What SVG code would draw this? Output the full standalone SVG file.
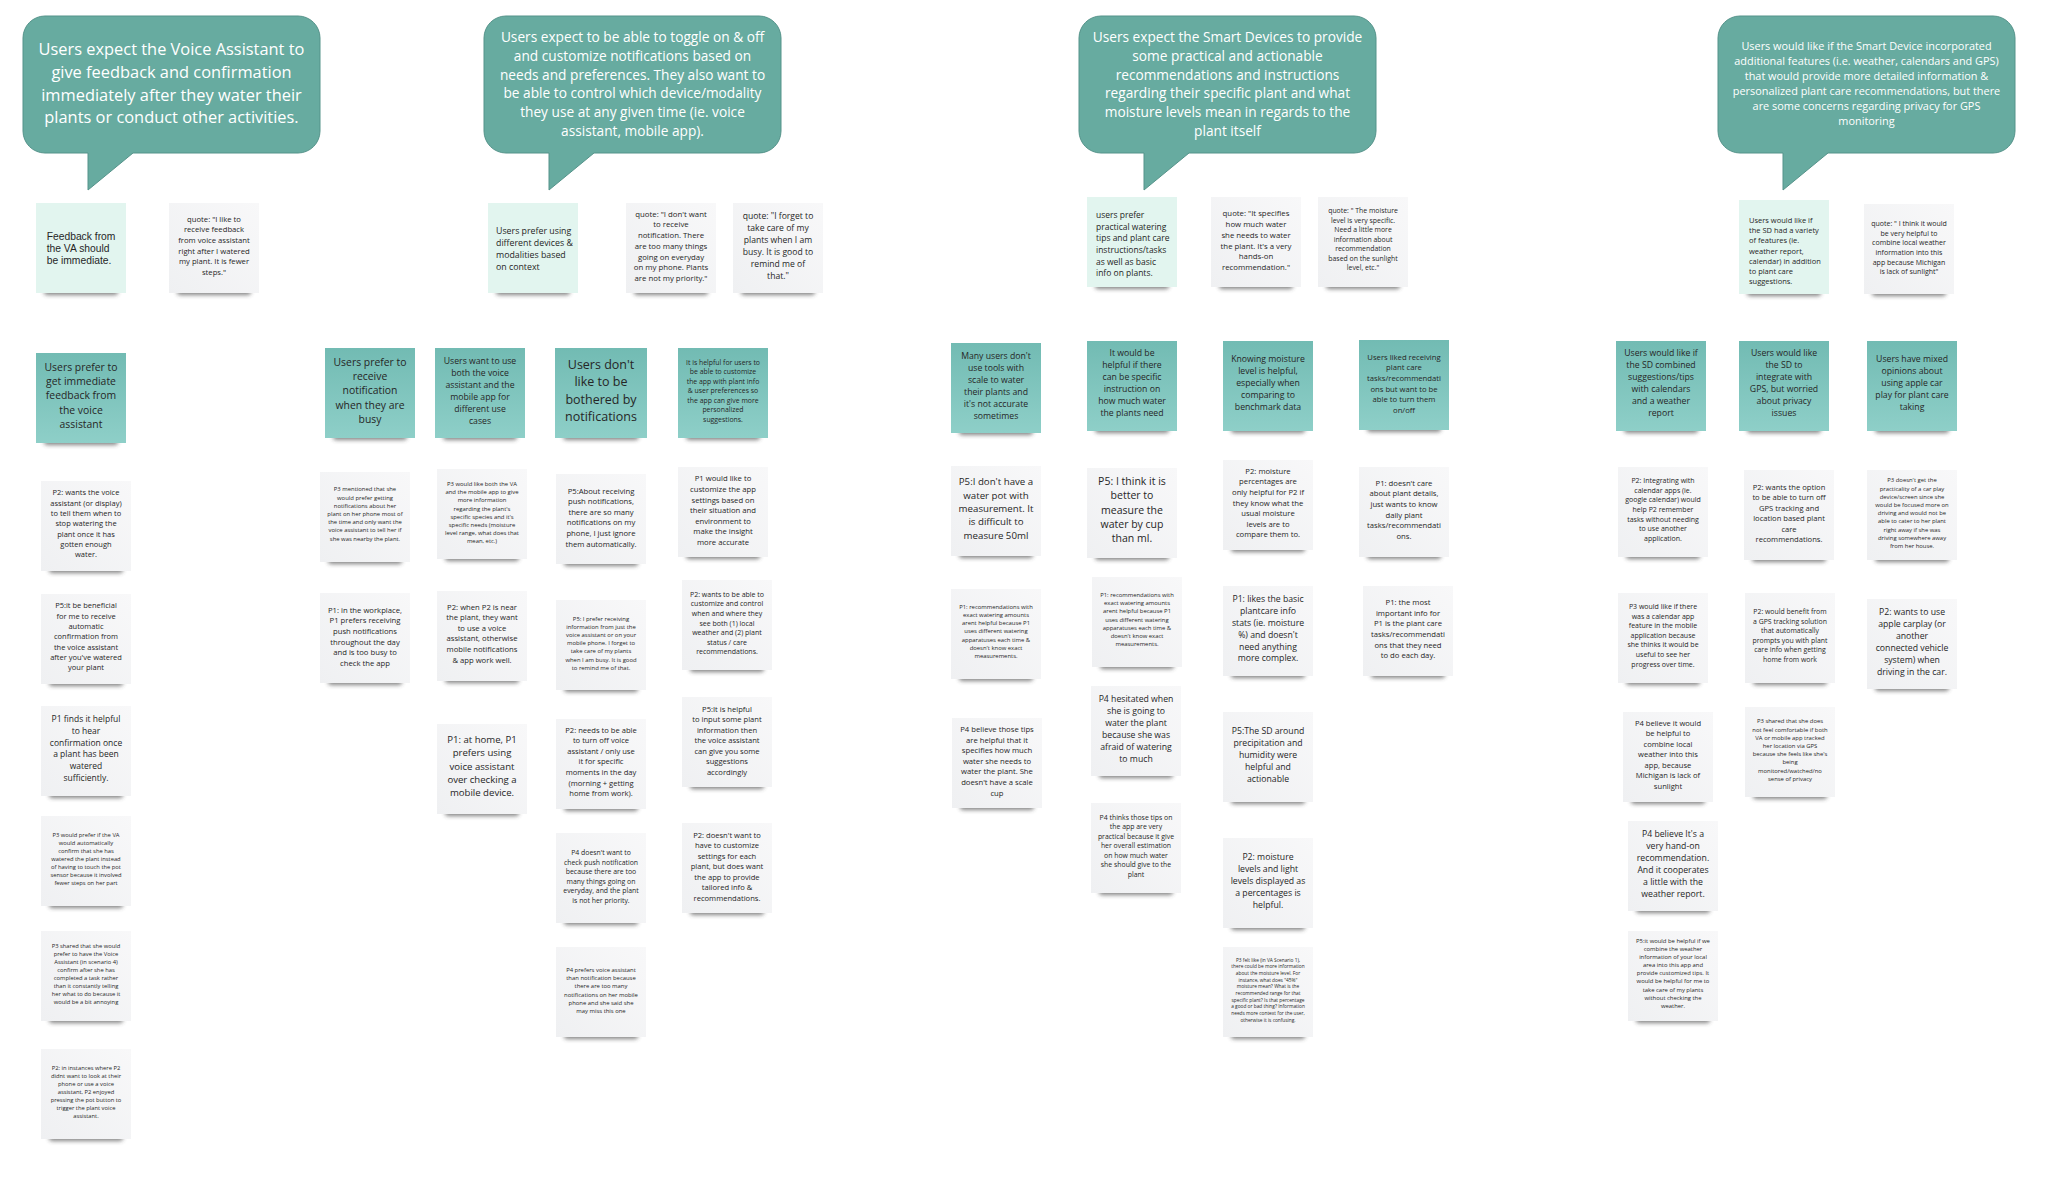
<svg xmlns="http://www.w3.org/2000/svg" xmlns:xlink="http://www.w3.org/1999/xlink" width="2052" height="1180" viewBox="0 0 2052 1180">
<style>
.bub{fill:#67aba0;stroke:#55938a;stroke-width:1}
.bt{font-family:"Open Sans","Noto Sans",sans-serif;fill:#ffffff;text-anchor:middle}
.nt{font-family:"Open Sans","Noto Sans",sans-serif;fill:#262626;text-anchor:middle}
.lt{font-family:"Open Sans","Noto Sans",sans-serif;fill:#262626;text-anchor:start}
.g{fill:url(#gG)}
.h{fill:url(#gH)}
.l{fill:#e2f5ef}
</style>
<defs>
<linearGradient id="gH" x1="0" y1="0" x2="0" y2="1"><stop offset="0" stop-color="#72bbb3"/><stop offset="1" stop-color="#8ecfc8"/></linearGradient>
<linearGradient id="gG" x1="0" y1="1" x2="1" y2="0"><stop offset="0" stop-color="#eff0f2"/><stop offset="1" stop-color="#f8f8f9"/></linearGradient>
<filter id="bl" x="-20%" y="-300%" width="140%" height="700%"><feGaussianBlur stdDeviation="2"/></filter>
<g id="sh"><rect x="8" y="85" width="74" height="7" rx="3.5" fill="#333" opacity="0.6" filter="url(#bl)"/></g>
<path id="bub" d="M22,0 H275 A22,22 0 0 1 297,22 V115 A22,22 0 0 1 275,137 H110 L65,174 V137 H22 A22,22 0 0 1 0,115 V22 A22,22 0 0 1 22,0 Z"/>
</defs>
<rect width="2052" height="1180" fill="#ffffff"/>
<g id="connectors"></g>

<!-- Column 1 -->
<g id="c1-bubble" transform="translate(23,16)"><use href="#bub" class="bub"/>
<text class="bt" style="font-size:16.4px" y="39.2"><tspan x="148.5">Users expect the Voice Assistant to</tspan><tspan x="148.5" dy="22.7">give feedback and confirmation</tspan><tspan x="148.5" dy="22.7">immediately after they water their</tspan><tspan x="148.5" dy="22.7">plants or conduct other activities.</tspan></text></g>
<g id="c1-n1" transform="translate(36,203)"><use href="#sh"/><rect class="l" width="90" height="90"/>
<text style="font-family:'Liberation Sans',Arial,sans-serif;font-size:10.3px;fill:#262626" y="37"><tspan x="10.7">Feedback from</tspan><tspan x="10.7" dy="12">the VA should</tspan><tspan x="10.7" dy="12">be immediate.</tspan></text></g>
<g id="c1-n2" transform="translate(169,203)"><use href="#sh"/><rect class="g" width="90" height="90"/>
<text class="nt" style="font-size:7.7px" y="18.8"><tspan x="45">quote: "I like to</tspan><tspan x="45" dy="10.6">receive feedback</tspan><tspan x="45" dy="10.6">from voice assistant</tspan><tspan x="45" dy="10.6">right after I watered</tspan><tspan x="45" dy="10.6">my plant. It is fewer</tspan><tspan x="45" dy="10.6">steps."</tspan></text></g>
<g id="c1-n3" transform="translate(36,353)"><use href="#sh"/><rect class="h" width="90" height="90"/>
<text class="nt" style="font-size:10.4px" y="17.6"><tspan x="45">Users prefer to</tspan><tspan x="45" dy="14.3">get immediate</tspan><tspan x="45" dy="14.3">feedback from</tspan><tspan x="45" dy="14.3">the voice</tspan><tspan x="45" dy="14.3">assistant</tspan></text></g>
<g id="c1-n4" transform="translate(41,481)"><use href="#sh"/><rect class="g" width="90" height="90"/>
<text class="nt" style="font-size:7.5px" y="14.3"><tspan x="45">P2: wants the voice</tspan><tspan x="45" dy="10.3">assistant (or display)</tspan><tspan x="45" dy="10.3">to tell them when to</tspan><tspan x="45" dy="10.3">stop watering the</tspan><tspan x="45" dy="10.3">plant once it has</tspan><tspan x="45" dy="10.3">gotten enough</tspan><tspan x="45" dy="10.3">water.</tspan></text></g>
<g id="c1-n5" transform="translate(41,594)"><use href="#sh"/><rect class="g" width="90" height="90"/>
<text class="nt" style="font-size:7.5px" y="14.3"><tspan x="45">P5:it be beneficial</tspan><tspan x="45" dy="10.3">for me to receive</tspan><tspan x="45" dy="10.3">automatic</tspan><tspan x="45" dy="10.3">confirmation from</tspan><tspan x="45" dy="10.3">the voice assistant</tspan><tspan x="45" dy="10.3">after you've watered</tspan><tspan x="45" dy="10.3">your plant</tspan></text></g>
<g id="c1-n6" transform="translate(41,706)"><use href="#sh"/><rect class="g" width="90" height="90"/>
<text class="nt" style="font-size:8.5px" y="16.3"><tspan x="45">P1 finds it helpful</tspan><tspan x="45" dy="11.7">to hear</tspan><tspan x="45" dy="11.7">confirmation once</tspan><tspan x="45" dy="11.7">a plant has been</tspan><tspan x="45" dy="11.7">watered</tspan><tspan x="45" dy="11.7">sufficiently.</tspan></text></g>
<g id="c1-n7" transform="translate(41,816)"><use href="#sh"/><rect class="g" width="90" height="90"/>
<text class="nt" style="font-size:5.8px" y="20.6"><tspan x="45">P3 would prefer if the VA</tspan><tspan x="45" dy="8">would automatically</tspan><tspan x="45" dy="8">confirm that she has</tspan><tspan x="45" dy="8">watered the plant instead</tspan><tspan x="45" dy="8">of having to touch the pot</tspan><tspan x="45" dy="8">sensor because it involved</tspan><tspan x="45" dy="8">fewer steps on her part</tspan></text></g>
<g id="c1-n8" transform="translate(41,931)"><use href="#sh"/><rect class="g" width="90" height="90"/>
<text class="nt" style="font-size:5.8px" y="16.6"><tspan x="45">P3 shared that she would</tspan><tspan x="45" dy="8">prefer to have the Voice</tspan><tspan x="45" dy="8">Assistant (in scenario 4)</tspan><tspan x="45" dy="8">confirm after she has</tspan><tspan x="45" dy="8">completed a task rather</tspan><tspan x="45" dy="8">than it constantly telling</tspan><tspan x="45" dy="8">her what to do because it</tspan><tspan x="45" dy="8">would be a bit annoying</tspan></text></g>
<g id="c1-n9" transform="translate(41,1049)"><use href="#sh"/><rect class="g" width="90" height="90"/>
<text class="nt" style="font-size:5.8px" y="20.6"><tspan x="45">P2: in instances where P2</tspan><tspan x="45" dy="8">didnt want to look at their</tspan><tspan x="45" dy="8">phone or use a voice</tspan><tspan x="45" dy="8">assistant, P2 enjoyed</tspan><tspan x="45" dy="8">pressing the pot button to</tspan><tspan x="45" dy="8">trigger the plant voice</tspan><tspan x="45" dy="8">assistant.</tspan></text></g>

<!-- Column 2 -->
<g id="c2-bubble" transform="translate(484,16)"><use href="#bub" class="bub"/>
<text class="bt" style="font-size:13.7px" y="26.2"><tspan x="148.5">Users expect to be able to toggle on &amp; off</tspan><tspan x="148.5" dy="18.7">and customize notifications based on</tspan><tspan x="148.5" dy="18.7">needs and preferences. They also want to</tspan><tspan x="148.5" dy="18.7">be able to control which device/modality</tspan><tspan x="148.5" dy="18.7">they use at any given time (ie. voice</tspan><tspan x="148.5" dy="18.7">assistant, mobile app).</tspan></text></g>
<g id="c2-n1" transform="translate(488,203)"><use href="#sh"/><rect class="l" width="90" height="90"/>
<text class="lt" style="font-size:8.8px" y="31"><tspan x="8">Users prefer using</tspan><tspan x="8" dy="12.1">different devices &amp;</tspan><tspan x="8" dy="12.1">modalities based</tspan><tspan x="8" dy="12.1">on context</tspan></text></g>
<g id="c2-n2" transform="translate(626,203)"><use href="#sh"/><rect class="g" width="90" height="90"/>
<text class="nt" style="font-size:7.8px" y="13.7"><tspan x="45">quote: "I don't want</tspan><tspan x="45" dy="10.7">to receive</tspan><tspan x="45" dy="10.7">notification. There</tspan><tspan x="45" dy="10.7">are too many things</tspan><tspan x="45" dy="10.7">going on everyday</tspan><tspan x="45" dy="10.7">on my phone. Plants</tspan><tspan x="45" dy="10.7">are not my priority."</tspan></text></g>
<g id="c2-n3" transform="translate(733,203)"><use href="#sh"/><rect class="g" width="90" height="90"/>
<text class="nt" style="font-size:8.6px" y="16"><tspan x="45">quote: "I forget to</tspan><tspan x="45" dy="11.9">take care of my</tspan><tspan x="45" dy="11.9">plants when I am</tspan><tspan x="45" dy="11.9">busy. It is good to</tspan><tspan x="45" dy="11.9">remind me of</tspan><tspan x="45" dy="11.9">that."</tspan></text></g>
<g id="c2-h1" transform="translate(325,348)"><use href="#sh"/><rect class="h" width="90" height="90"/>
<text class="nt" style="font-size:10.4px" y="17.8"><tspan x="45">Users prefer to</tspan><tspan x="45" dy="14.3">receive</tspan><tspan x="45" dy="14.3">notification</tspan><tspan x="45" dy="14.3">when they are</tspan><tspan x="45" dy="14.3">busy</tspan></text></g>
<g id="c2-h2" transform="translate(435,348)"><use href="#sh"/><rect class="h" width="90" height="90"/>
<text class="nt" style="font-size:8.7px" y="16.1"><tspan x="45">Users want to use</tspan><tspan x="45" dy="12">both the voice</tspan><tspan x="45" dy="12">assistant and the</tspan><tspan x="45" dy="12">mobile app for</tspan><tspan x="45" dy="12">different use</tspan><tspan x="45" dy="12">cases</tspan></text></g>
<g id="c2-h3" transform="translate(555,348)"><use href="#sh" transform="scale(1.02,1)"/><rect class="h" width="92" height="90"/>
<text class="nt" style="font-size:12.5px" y="21"><tspan x="46">Users don't</tspan><tspan x="46" dy="17.3">like to be</tspan><tspan x="46" dy="17.3">bothered by</tspan><tspan x="46" dy="17.3">notifications</tspan></text></g>
<g id="c2-h4" transform="translate(678,348)"><use href="#sh"/><rect class="h" width="90" height="90"/>
<text class="nt" style="font-size:6.9px" y="16.8"><tspan x="45">It is helpful for users to</tspan><tspan x="45" dy="9.5">be able to customize</tspan><tspan x="45" dy="9.5">the app with plant info</tspan><tspan x="45" dy="9.5">&amp; user preferences so</tspan><tspan x="45" dy="9.5">the app can give more</tspan><tspan x="45" dy="9.5">personalized</tspan><tspan x="45" dy="9.5">suggestions.</tspan></text></g>
<g id="c2-a2" transform="translate(320,472)"><use href="#sh"/><rect class="g" width="90" height="90"/>
<text class="nt" style="font-size:5.9px" y="19.3"><tspan x="45">P3 mentioned that she</tspan><tspan x="45" dy="8.2">would prefer getting</tspan><tspan x="45" dy="8.2">notifications about her</tspan><tspan x="45" dy="8.2">plant on her phone most of</tspan><tspan x="45" dy="8.2">the time and only want the</tspan><tspan x="45" dy="8.2">voice assistant to tell her if</tspan><tspan x="45" dy="8.2">she was nearby the plant.</tspan></text></g>
<g id="c2-a3" transform="translate(320,593)"><use href="#sh"/><rect class="g" width="90" height="90"/>
<text class="nt" style="font-size:7.7px" y="19.8"><tspan x="45">P1: in the workplace,</tspan><tspan x="45" dy="10.6">P1 prefers receiving</tspan><tspan x="45" dy="10.6">push notifications</tspan><tspan x="45" dy="10.6">throughout the day</tspan><tspan x="45" dy="10.6">and is too busy to</tspan><tspan x="45" dy="10.6">check the app</tspan></text></g>
<g id="c2-b2" transform="translate(437,469)"><use href="#sh"/><rect class="g" width="90" height="90"/>
<text class="nt" style="font-size:5.9px" y="16.9"><tspan x="45">P3 would like both the VA</tspan><tspan x="45" dy="8.2">and the mobile app to give</tspan><tspan x="45" dy="8.2">more information</tspan><tspan x="45" dy="8.2">regarding the plant's</tspan><tspan x="45" dy="8.2">specific species and it's</tspan><tspan x="45" dy="8.2">specific needs (moisture</tspan><tspan x="45" dy="8.2">level range, what does that</tspan><tspan x="45" dy="8.2">mean, etc.)</tspan></text></g>
<g id="c2-b3" transform="translate(437,591)"><use href="#sh"/><rect class="g" width="90" height="90"/>
<text class="nt" style="font-size:7.7px" y="18.6"><tspan x="45">P2: when P2 is near</tspan><tspan x="45" dy="10.6">the plant, they want</tspan><tspan x="45" dy="10.6">to use a voice</tspan><tspan x="45" dy="10.6">assistant, otherwise</tspan><tspan x="45" dy="10.6">mobile notifications</tspan><tspan x="45" dy="10.6">&amp; app work well.</tspan></text></g>
<g id="c2-b4" transform="translate(437,724)"><use href="#sh"/><rect class="g" width="90" height="90"/>
<text class="nt" style="font-size:9.6px" y="18.9"><tspan x="45">P1: at home, P1</tspan><tspan x="45" dy="13.3">prefers using</tspan><tspan x="45" dy="13.3">voice assistant</tspan><tspan x="45" dy="13.3">over checking a</tspan><tspan x="45" dy="13.3">mobile device.</tspan></text></g>
<g id="c2-c2" transform="translate(556,474)"><use href="#sh"/><rect class="g" width="90" height="90"/>
<text class="nt" style="font-size:7.7px" y="19.5"><tspan x="45">P5:About receiving</tspan><tspan x="45" dy="10.6">push notifications,</tspan><tspan x="45" dy="10.6">there are so many</tspan><tspan x="45" dy="10.6">notifications on my</tspan><tspan x="45" dy="10.6">phone, I just ignore</tspan><tspan x="45" dy="10.6">them automatically.</tspan></text></g>
<g id="c2-c3" transform="translate(556,600)"><use href="#sh"/><rect class="g" width="90" height="90"/>
<text class="nt" style="font-size:5.9px" y="20.5"><tspan x="45">P5: I prefer receiving</tspan><tspan x="45" dy="8.2">information from just the</tspan><tspan x="45" dy="8.2">voice assistant or on your</tspan><tspan x="45" dy="8.2">mobile phone. I forget to</tspan><tspan x="45" dy="8.2">take care of my plants</tspan><tspan x="45" dy="8.2">when I am busy. It is good</tspan><tspan x="45" dy="8.2">to remind me of that.</tspan></text></g>
<g id="c2-c4" transform="translate(556,719)"><use href="#sh"/><rect class="g" width="90" height="90"/>
<text class="nt" style="font-size:7.6px" y="13.6"><tspan x="45">P2: needs to be able</tspan><tspan x="45" dy="10.6">to turn off voice</tspan><tspan x="45" dy="10.6">assistant / only use</tspan><tspan x="45" dy="10.6">it for specific</tspan><tspan x="45" dy="10.6">moments in the day</tspan><tspan x="45" dy="10.6">(morning + getting</tspan><tspan x="45" dy="10.6">home from work).</tspan></text></g>
<g id="c2-c5" transform="translate(556,833)"><use href="#sh"/><rect class="g" width="90" height="90"/>
<text class="nt" style="font-size:6.9px" y="22"><tspan x="45">P4 doesn't want to</tspan><tspan x="45" dy="9.5">check push notification</tspan><tspan x="45" dy="9.5">because there are too</tspan><tspan x="45" dy="9.5">many things going on</tspan><tspan x="45" dy="9.5">everyday, and the plant</tspan><tspan x="45" dy="9.5">is not her priority.</tspan></text></g>
<g id="c2-c6" transform="translate(556,947)"><use href="#sh"/><rect class="g" width="90" height="90"/>
<text class="nt" style="font-size:5.9px" y="25.2"><tspan x="45">P4 prefers voice assistant</tspan><tspan x="45" dy="8.1">than notification because</tspan><tspan x="45" dy="8.1">there are too many</tspan><tspan x="45" dy="8.1">notifications on her mobile</tspan><tspan x="45" dy="8.1">phone and she said she</tspan><tspan x="45" dy="8.1">may miss this one</tspan></text></g>
<g id="c2-d2" transform="translate(678,467)"><use href="#sh"/><rect class="g" width="90" height="90"/>
<text class="nt" style="font-size:7.7px" y="14.3"><tspan x="45">P1 would like to</tspan><tspan x="45" dy="10.6">customize the app</tspan><tspan x="45" dy="10.6">settings based on</tspan><tspan x="45" dy="10.6">their situation and</tspan><tspan x="45" dy="10.6">environment to</tspan><tspan x="45" dy="10.6">make the insight</tspan><tspan x="45" dy="10.6">more accurate</tspan></text></g>
<g id="c2-d3" transform="translate(682,580)"><use href="#sh"/><rect class="g" width="90" height="90"/>
<text class="nt" style="font-size:7px" y="16.7"><tspan x="45">P2: wants to be able to</tspan><tspan x="45" dy="9.6">customize and control</tspan><tspan x="45" dy="9.6">when and where they</tspan><tspan x="45" dy="9.6">see both (1) local</tspan><tspan x="45" dy="9.6">weather and (2) plant</tspan><tspan x="45" dy="9.6">status / care</tspan><tspan x="45" dy="9.6">recommendations.</tspan></text></g>
<g id="c2-d4" transform="translate(682,697)"><use href="#sh"/><rect class="g" width="90" height="90"/>
<text class="nt" style="font-size:7.6px" y="14.5"><tspan x="45">P5:It is helpful</tspan><tspan x="45" dy="10.5">to input some plant</tspan><tspan x="45" dy="10.5">information then</tspan><tspan x="45" dy="10.5">the voice assistant</tspan><tspan x="45" dy="10.5">can give you some</tspan><tspan x="45" dy="10.5">suggestions</tspan><tspan x="45" dy="10.5">accordingly</tspan></text></g>
<g id="c2-d5" transform="translate(682,823)"><use href="#sh"/><rect class="g" width="90" height="90"/>
<text class="nt" style="font-size:7.6px" y="14.5"><tspan x="45">P2: doesn't want to</tspan><tspan x="45" dy="10.5">have to customize</tspan><tspan x="45" dy="10.5">settings for each</tspan><tspan x="45" dy="10.5">plant, but does want</tspan><tspan x="45" dy="10.5">the app to provide</tspan><tspan x="45" dy="10.5">tailored info &amp;</tspan><tspan x="45" dy="10.5">recommendations.</tspan></text></g>

<!-- Column 3 -->
<g id="c3-bubble" transform="translate(1079,16)"><use href="#bub" class="bub"/>
<text class="bt" style="font-size:13.7px" y="26.2"><tspan x="148.5">Users expect the Smart Devices to provide</tspan><tspan x="148.5" dy="18.7">some practical and actionable</tspan><tspan x="148.5" dy="18.7">recommendations and instructions</tspan><tspan x="148.5" dy="18.7">regarding their specific plant and what</tspan><tspan x="148.5" dy="18.7">moisture levels mean in regards to the</tspan><tspan x="148.5" dy="18.7">plant itself</tspan></text></g>
<g id="c3-n1" transform="translate(1087,197)"><use href="#sh"/><rect class="l" width="90" height="90"/>
<text class="lt" style="font-size:8.5px" y="20.9"><tspan x="9">users prefer</tspan><tspan x="9" dy="11.7">practical watering</tspan><tspan x="9" dy="11.7">tips and plant care</tspan><tspan x="9" dy="11.7">instructions/tasks</tspan><tspan x="9" dy="11.7">as well as basic</tspan><tspan x="9" dy="11.7">info on plants.</tspan></text></g>
<g id="c3-n2" transform="translate(1211,197)"><use href="#sh"/><rect class="g" width="90" height="90"/>
<text class="nt" style="font-size:7.8px" y="19.1"><tspan x="45">quote: "It specifies</tspan><tspan x="45" dy="10.8">how much water</tspan><tspan x="45" dy="10.8">she needs to water</tspan><tspan x="45" dy="10.8">the plant. It's a very</tspan><tspan x="45" dy="10.8">hands-on</tspan><tspan x="45" dy="10.8">recommendation."</tspan></text></g>
<g id="c3-n3" transform="translate(1318,197)"><use href="#sh"/><rect class="g" width="90" height="90"/>
<text class="nt" style="font-size:6.9px" y="16.2"><tspan x="45">quote: " The moisture</tspan><tspan x="45" dy="9.5">level is very specific.</tspan><tspan x="45" dy="9.5">Need a little more</tspan><tspan x="45" dy="9.5">information about</tspan><tspan x="45" dy="9.5">recommendation</tspan><tspan x="45" dy="9.5">based on the sunlight</tspan><tspan x="45" dy="9.5">level, etc."</tspan></text></g>
<g id="c3-h1" transform="translate(951,343)"><use href="#sh"/><rect class="h" width="90" height="90"/>
<text class="nt" style="font-size:8.7px" y="15.8"><tspan x="45">Many users don't</tspan><tspan x="45" dy="12">use tools with</tspan><tspan x="45" dy="12">scale to water</tspan><tspan x="45" dy="12">their plants and</tspan><tspan x="45" dy="12">it's not accurate</tspan><tspan x="45" dy="12">sometimes</tspan></text></g>
<g id="c3-h2" transform="translate(1087,341)"><use href="#sh"/><rect class="h" width="90" height="90"/>
<text class="nt" style="font-size:8.7px" y="15.3"><tspan x="45">It would be</tspan><tspan x="45" dy="12">helpful if there</tspan><tspan x="45" dy="12">can be specific</tspan><tspan x="45" dy="12">instruction on</tspan><tspan x="45" dy="12">how much water</tspan><tspan x="45" dy="12">the plants need</tspan></text></g>
<g id="c3-h3" transform="translate(1223,341)"><use href="#sh"/><rect class="h" width="90" height="90"/>
<text class="nt" style="font-size:8.7px" y="21.4"><tspan x="45">Knowing moisture</tspan><tspan x="45" dy="12">level is helpful,</tspan><tspan x="45" dy="12">especially when</tspan><tspan x="45" dy="12">comparing to</tspan><tspan x="45" dy="12">benchmark data</tspan></text></g>
<g id="c3-h4" transform="translate(1359,340)"><use href="#sh"/><rect class="h" width="90" height="90"/>
<text class="nt" style="font-size:7.7px" y="19.8"><tspan x="45">Users liked receiving</tspan><tspan x="45" dy="10.6">plant care</tspan><tspan x="45" dy="10.6">tasks/recommendati</tspan><tspan x="45" dy="10.6">ons but want to be</tspan><tspan x="45" dy="10.6">able to turn them</tspan><tspan x="45" dy="10.6">on/off</tspan></text></g>
<g id="c3-a2" transform="translate(951,466)"><use href="#sh"/><rect class="g" width="90" height="90"/>
<text class="nt" style="font-size:9.7px" y="19.2"><tspan x="45">P5:I don't have a</tspan><tspan x="45" dy="13.4">water pot with</tspan><tspan x="45" dy="13.4">measurement. It</tspan><tspan x="45" dy="13.4">is difficult to</tspan><tspan x="45" dy="13.4">measure 50ml</tspan></text></g>
<g id="c3-a3" transform="translate(951,589)"><use href="#sh"/><rect class="g" width="90" height="90"/>
<text class="nt" style="font-size:5.9px" y="19.8"><tspan x="45">P1: recommendations with</tspan><tspan x="45" dy="8.2">exact watering amounts</tspan><tspan x="45" dy="8.2">arent helpful because P1</tspan><tspan x="45" dy="8.2">uses different watering</tspan><tspan x="45" dy="8.2">apparatuses each time &amp;</tspan><tspan x="45" dy="8.2">doesn't know exact</tspan><tspan x="45" dy="8.2">measurements.</tspan></text></g>
<g id="c3-a4" transform="translate(952,718)"><use href="#sh"/><rect class="g" width="90" height="90"/>
<text class="nt" style="font-size:7.7px" y="14"><tspan x="45">P4 believe those tips</tspan><tspan x="45" dy="10.6">are helpful that it</tspan><tspan x="45" dy="10.6">specifies how much</tspan><tspan x="45" dy="10.6">water she needs to</tspan><tspan x="45" dy="10.6">water the plant. She</tspan><tspan x="45" dy="10.6">doesn't have a scale</tspan><tspan x="45" dy="10.6">cup</tspan></text></g>
<g id="c3-b2" transform="translate(1087,468)"><use href="#sh"/><rect class="g" width="90" height="90"/>
<text class="nt" style="font-size:10.5px" y="16.8"><tspan x="45">P5: I think it is</tspan><tspan x="45" dy="14.4">better to</tspan><tspan x="45" dy="14.4">measure the</tspan><tspan x="45" dy="14.4">water by cup</tspan><tspan x="45" dy="14.4">than ml.</tspan></text></g>
<g id="c3-b3" transform="translate(1092,577)"><use href="#sh"/><rect class="g" width="90" height="90"/>
<text class="nt" style="font-size:5.9px" y="20"><tspan x="45">P1: recommendations with</tspan><tspan x="45" dy="8.2">exact watering amounts</tspan><tspan x="45" dy="8.2">arent helpful because P1</tspan><tspan x="45" dy="8.2">uses different watering</tspan><tspan x="45" dy="8.2">apparatuses each time &amp;</tspan><tspan x="45" dy="8.2">doesn't know exact</tspan><tspan x="45" dy="8.2">measurements.</tspan></text></g>
<g id="c3-b4" transform="translate(1091,686)"><use href="#sh"/><rect class="g" width="90" height="90"/>
<text class="nt" style="font-size:8.7px" y="15.6"><tspan x="45">P4 hesitated when</tspan><tspan x="45" dy="12">she is going to</tspan><tspan x="45" dy="12">water the plant</tspan><tspan x="45" dy="12">because she was</tspan><tspan x="45" dy="12">afraid of watering</tspan><tspan x="45" dy="12">to much</tspan></text></g>
<g id="c3-b5" transform="translate(1091,803)"><use href="#sh"/><rect class="g" width="90" height="90"/>
<text class="nt" style="font-size:6.9px" y="16.7"><tspan x="45">P4 thinks those tips on</tspan><tspan x="45" dy="9.5">the app are very</tspan><tspan x="45" dy="9.5">practical because it give</tspan><tspan x="45" dy="9.5">her overall estimation</tspan><tspan x="45" dy="9.5">on how much water</tspan><tspan x="45" dy="9.5">she should give to the</tspan><tspan x="45" dy="9.5">plant</tspan></text></g>
<g id="c3-c2" transform="translate(1223,460)"><use href="#sh"/><rect class="g" width="90" height="90"/>
<text class="nt" style="font-size:7.7px" y="13.7"><tspan x="45">P2: moisture</tspan><tspan x="45" dy="10.6">percentages are</tspan><tspan x="45" dy="10.6">only helpful for P2 if</tspan><tspan x="45" dy="10.6">they know what the</tspan><tspan x="45" dy="10.6">usual moisture</tspan><tspan x="45" dy="10.6">levels are to</tspan><tspan x="45" dy="10.6">compare them to.</tspan></text></g>
<g id="c3-c3" transform="translate(1223,586)"><use href="#sh"/><rect class="g" width="90" height="90"/>
<text class="nt" style="font-size:8.7px" y="15.9"><tspan x="45">P1: likes the basic</tspan><tspan x="45" dy="11.9">plantcare info</tspan><tspan x="45" dy="11.9">stats (ie. moisture</tspan><tspan x="45" dy="11.9">%) and doesn't</tspan><tspan x="45" dy="11.9">need anything</tspan><tspan x="45" dy="11.9">more complex.</tspan></text></g>
<g id="c3-c4" transform="translate(1223,712)"><use href="#sh"/><rect class="g" width="90" height="90"/>
<text class="nt" style="font-size:8.7px" y="21.8"><tspan x="45">P5:The SD around</tspan><tspan x="45" dy="12">precipitation and</tspan><tspan x="45" dy="12">humidity were</tspan><tspan x="45" dy="12">helpful and</tspan><tspan x="45" dy="12">actionable</tspan></text></g>
<g id="c3-c5" transform="translate(1223,838)"><use href="#sh"/><rect class="g" width="90" height="90"/>
<text class="nt" style="font-size:8.7px" y="21.6"><tspan x="45">P2: moisture</tspan><tspan x="45" dy="12">levels and light</tspan><tspan x="45" dy="12">levels displayed as</tspan><tspan x="45" dy="12">a percentages is</tspan><tspan x="45" dy="12">helpful.</tspan></text></g>
<g id="c3-c6" transform="translate(1223,947)"><use href="#sh"/><rect class="g" width="90" height="90"/>
<text class="nt" style="font-size:4.8px" y="14.7"><tspan x="45">P3 felt like (in VA Scenario 1),</tspan><tspan x="45" dy="6.67">there could be more information</tspan><tspan x="45" dy="6.67">about the moisture level. For</tspan><tspan x="45" dy="6.67">instance, what does "45%"</tspan><tspan x="45" dy="6.67">moisture mean? What is the</tspan><tspan x="45" dy="6.67">recommended range for that</tspan><tspan x="45" dy="6.67">specific plant? Is that percentage</tspan><tspan x="45" dy="6.67">a good or bad thing? Information</tspan><tspan x="45" dy="6.67">needs more context for the user,</tspan><tspan x="45" dy="6.67">otherwise it is confusing.</tspan></text></g>
<g id="c3-d2" transform="translate(1359,467)"><use href="#sh"/><rect class="g" width="90" height="90"/>
<text class="nt" style="font-size:7.7px" y="18.8"><tspan x="45">P1: doesn't care</tspan><tspan x="45" dy="10.6">about plant details,</tspan><tspan x="45" dy="10.6">just wants to know</tspan><tspan x="45" dy="10.6">daily plant</tspan><tspan x="45" dy="10.6">tasks/recommendati</tspan><tspan x="45" dy="10.6">ons.</tspan></text></g>
<g id="c3-d3" transform="translate(1363,586)"><use href="#sh"/><rect class="g" width="90" height="90"/>
<text class="nt" style="font-size:7.7px" y="19.1"><tspan x="45">P1: the most</tspan><tspan x="45" dy="10.6">important info for</tspan><tspan x="45" dy="10.6">P1 is the plant care</tspan><tspan x="45" dy="10.6">tasks/recommendati</tspan><tspan x="45" dy="10.6">ons that they need</tspan><tspan x="45" dy="10.6">to do each day.</tspan></text></g>

<!-- Column 4 -->
<g id="c4-bubble" transform="translate(1718,16)"><use href="#bub" class="bub"/>
<text class="bt" style="font-size:10.9px" y="33.9"><tspan x="148.5">Users would like if the Smart Device incorporated</tspan><tspan x="148.5" dy="15">additional features (i.e. weather, calendars and GPS)</tspan><tspan x="148.5" dy="15">that would provide more detailed information &amp;</tspan><tspan x="148.5" dy="15">personalized plant care recommendations, but there</tspan><tspan x="148.5" dy="15">are some concerns regarding privacy for GPS</tspan><tspan x="148.5" dy="15">monitoring</tspan></text></g>
<g id="c4-n1" transform="translate(1739,200)"><use href="#sh" transform="translate(0,4)"/><rect class="l" width="90" height="94"/>
<text class="lt" style="font-size:7.5px" y="22.6"><tspan x="10">Users would like if</tspan><tspan x="10" dy="10.3">the SD had a variety</tspan><tspan x="10" dy="10.3">of features (ie.</tspan><tspan x="10" dy="10.3">weather report,</tspan><tspan x="10" dy="10.3">calendar) in addition</tspan><tspan x="10" dy="10.3">to plant care</tspan><tspan x="10" dy="10.3">suggestions.</tspan></text></g>
<g id="c4-n2" transform="translate(1864,204)"><use href="#sh"/><rect class="g" width="90" height="90"/>
<text class="nt" style="font-size:7px" y="21.8"><tspan x="45">quote: " I think it would</tspan><tspan x="45" dy="9.7">be very helpful to</tspan><tspan x="45" dy="9.7">combine local weather</tspan><tspan x="45" dy="9.7">information into this</tspan><tspan x="45" dy="9.7">app because Michigan</tspan><tspan x="45" dy="9.7">is lack of sunlight"</tspan></text></g>
<g id="c4-h1" transform="translate(1616,341)"><use href="#sh"/><rect class="h" width="90" height="90"/>
<text class="nt" style="font-size:8.7px" y="15.3"><tspan x="45">Users would like if</tspan><tspan x="45" dy="12">the SD combined</tspan><tspan x="45" dy="12">suggestions/tips</tspan><tspan x="45" dy="12">with calendars</tspan><tspan x="45" dy="12">and a weather</tspan><tspan x="45" dy="12">report</tspan></text></g>
<g id="c4-h2" transform="translate(1739,341)"><use href="#sh"/><rect class="h" width="90" height="90"/>
<text class="nt" style="font-size:8.7px" y="15.3"><tspan x="45">Users would like</tspan><tspan x="45" dy="12">the SD to</tspan><tspan x="45" dy="12">integrate with</tspan><tspan x="45" dy="12">GPS, but worried</tspan><tspan x="45" dy="12">about privacy</tspan><tspan x="45" dy="12">issues</tspan></text></g>
<g id="c4-h3" transform="translate(1867,341)"><use href="#sh"/><rect class="h" width="90" height="90"/>
<text class="nt" style="font-size:8.7px" y="21.4"><tspan x="45">Users have mixed</tspan><tspan x="45" dy="12">opinions about</tspan><tspan x="45" dy="12">using apple car</tspan><tspan x="45" dy="12">play for plant care</tspan><tspan x="45" dy="12">taking</tspan></text></g>
<g id="c4-a2" transform="translate(1618,467)"><use href="#sh"/><rect class="g" width="90" height="90"/>
<text class="nt" style="font-size:7px" y="16.2"><tspan x="45">P2: Integrating with</tspan><tspan x="45" dy="9.6">calendar apps (ie.</tspan><tspan x="45" dy="9.6">google calendar) would</tspan><tspan x="45" dy="9.6">help P2 remember</tspan><tspan x="45" dy="9.6">tasks without needing</tspan><tspan x="45" dy="9.6">to use another</tspan><tspan x="45" dy="9.6">application.</tspan></text></g>
<g id="c4-a3" transform="translate(1618,593)"><use href="#sh"/><rect class="g" width="90" height="90"/>
<text class="nt" style="font-size:7px" y="16"><tspan x="45">P3 would like if there</tspan><tspan x="45" dy="9.6">was a calendar app</tspan><tspan x="45" dy="9.6">feature in the mobile</tspan><tspan x="45" dy="9.6">application because</tspan><tspan x="45" dy="9.6">she thinks it would be</tspan><tspan x="45" dy="9.6">useful to see her</tspan><tspan x="45" dy="9.6">progress over time.</tspan></text></g>
<g id="c4-a4" transform="translate(1623,712)"><use href="#sh"/><rect class="g" width="90" height="90"/>
<text class="nt" style="font-size:7.6px" y="13.9"><tspan x="45">P4 believe it would</tspan><tspan x="45" dy="10.5">be helpful to</tspan><tspan x="45" dy="10.5">combine local</tspan><tspan x="45" dy="10.5">weather into this</tspan><tspan x="45" dy="10.5">app, because</tspan><tspan x="45" dy="10.5">Michigan is lack of</tspan><tspan x="45" dy="10.5">sunlight</tspan></text></g>
<g id="c4-a5" transform="translate(1628,821)"><use href="#sh"/><rect class="g" width="90" height="90"/>
<text class="nt" style="font-size:8.7px" y="16.2"><tspan x="45">P4 believe It's a</tspan><tspan x="45" dy="11.9">very hand-on</tspan><tspan x="45" dy="11.9">recommendation.</tspan><tspan x="45" dy="11.9">And it cooperates</tspan><tspan x="45" dy="11.9">a little with the</tspan><tspan x="45" dy="11.9">weather report.</tspan></text></g>
<g id="c4-a6" transform="translate(1628,931)"><use href="#sh"/><rect class="g" width="90" height="90"/>
<text class="nt" style="font-size:5.9px" y="11.9"><tspan x="45">P5:it would be helpful if we</tspan><tspan x="45" dy="8.1">combine the weather</tspan><tspan x="45" dy="8.1">information of your local</tspan><tspan x="45" dy="8.1">area into this app and</tspan><tspan x="45" dy="8.1">provide customized tips. It</tspan><tspan x="45" dy="8.1">would be helpful for me to</tspan><tspan x="45" dy="8.1">take care of my plants</tspan><tspan x="45" dy="8.1">without checking the</tspan><tspan x="45" dy="8.1">weather.</tspan></text></g>
<g id="c4-b2" transform="translate(1744,470)"><use href="#sh"/><rect class="g" width="90" height="90"/>
<text class="nt" style="font-size:7.6px" y="19.5"><tspan x="45">P2: wants the option</tspan><tspan x="45" dy="10.5">to be able to turn off</tspan><tspan x="45" dy="10.5">GPS tracking and</tspan><tspan x="45" dy="10.5">location based plant</tspan><tspan x="45" dy="10.5">care</tspan><tspan x="45" dy="10.5">recommendations.</tspan></text></g>
<g id="c4-b3" transform="translate(1745,593)"><use href="#sh"/><rect class="g" width="90" height="90"/>
<text class="nt" style="font-size:6.9px" y="21.3"><tspan x="45">P2: would benefit from</tspan><tspan x="45" dy="9.5">a GPS tracking solution</tspan><tspan x="45" dy="9.5">that automatically</tspan><tspan x="45" dy="9.5">prompts you with plant</tspan><tspan x="45" dy="9.5">care info when getting</tspan><tspan x="45" dy="9.5">home from work</tspan></text></g>
<g id="c4-b4" transform="translate(1745,707)"><use href="#sh"/><rect class="g" width="90" height="90"/>
<text class="nt" style="font-size:5.9px" y="16.4"><tspan x="45">P3 shared that she does</tspan><tspan x="45" dy="8.2">not feel comfortable if both</tspan><tspan x="45" dy="8.2">VA or mobile app tracked</tspan><tspan x="45" dy="8.2">her location via GPS</tspan><tspan x="45" dy="8.2">because she feels like she's</tspan><tspan x="45" dy="8.2">being</tspan><tspan x="45" dy="8.2">monitored/watched/no</tspan><tspan x="45" dy="8.2">sense of privacy</tspan></text></g>
<g id="c4-c2" transform="translate(1867,470)"><use href="#sh"/><rect class="g" width="90" height="90"/>
<text class="nt" style="font-size:5.9px" y="12.3"><tspan x="45">P3 doesn't get the</tspan><tspan x="45" dy="8.2">practicality of a car play</tspan><tspan x="45" dy="8.2">device/screen since she</tspan><tspan x="45" dy="8.2">would be focused more on</tspan><tspan x="45" dy="8.2">driving and would not be</tspan><tspan x="45" dy="8.2">able to cater to her plant</tspan><tspan x="45" dy="8.2">right away if she was</tspan><tspan x="45" dy="8.2">driving somewhere away</tspan><tspan x="45" dy="8.2">from her house.</tspan></text></g>
<g id="c4-c3" transform="translate(1867,599)"><use href="#sh"/><rect class="g" width="90" height="90"/>
<text class="nt" style="font-size:8.7px" y="16.4"><tspan x="45">P2: wants to use</tspan><tspan x="45" dy="11.9">apple carplay (or</tspan><tspan x="45" dy="11.9">another</tspan><tspan x="45" dy="11.9">connected vehicle</tspan><tspan x="45" dy="11.9">system) when</tspan><tspan x="45" dy="11.9">driving in the car.</tspan></text></g>
</svg>
